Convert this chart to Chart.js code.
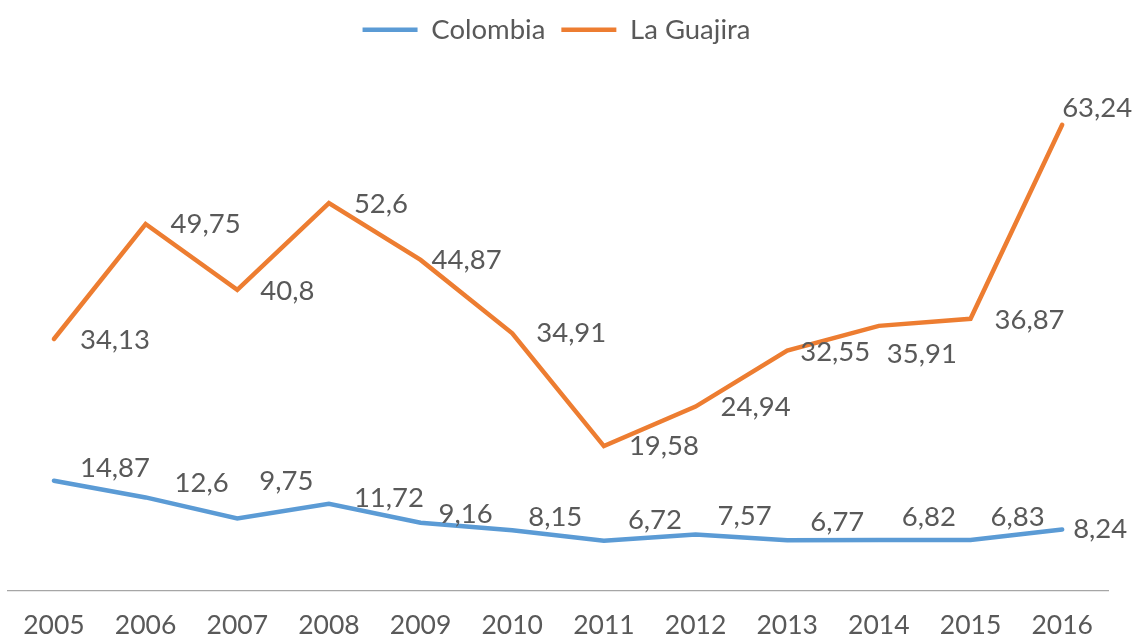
<!DOCTYPE html>
<html>
<head>
<meta charset="utf-8">
<script src="https://cdn.jsdelivr.net/npm/chart.js@4"></script>
<style>
  html, body { margin: 0; padding: 0; background: #fff; }
  #wrap { width: 1133px; height: 637px; }
</style>
</head>
<body>
<div id="wrap"><canvas id="chart"></canvas></div>
<script>
// --- data ---
const years = ['2005', '2006', '2007', '2008', '2009', '2010', '2011', '2012', '2013', '2014', '2015', '2016'];
const colombia = [14.87, 12.6, 9.75, 11.72, 9.16, 8.15, 6.72, 7.57, 6.77, 6.82, 6.83, 8.24];
const guajira = [34.13, 49.75, 40.8, 52.6, 44.87, 34.91, 19.58, 24.94, 32.55, 35.91, 36.87, 63.24];

// label nudges (px from the point: left edge, vertical centre)
const colombiaLabelShift = [[26, -13], [29, -14], [22, -37], [25, -6], [18, -9], [16, -13], [24, -21], [22, -18], [23, -18], [23, -23], [20, -23], [11, 0]];
const guajiraLabelShift = [[26, 1], [25, 0], [23, 1], [25, 1], [11, 0], [24, 0], [25, 0], [25, 1], [13, 2], [8, 28], [24, 1], [0, -17]];

const TEXT = '#595959';
const FONT = 'Lato, "Open Sans", sans-serif';

// draws value labels next to every point, decimal comma like the original
const valueLabels = {
    id: 'valueLabels',
    afterDatasetsDraw(chart) {
        const ctx = chart.ctx;
        ctx.save();
        ctx.font = '27.5px ' + FONT;
        ctx.fillStyle = TEXT;
        ctx.textAlign = 'left';
        ctx.textBaseline = 'middle';
        chart.data.datasets.forEach(function (ds, i) {
            const meta = chart.getDatasetMeta(i);
            const shift = ds.labelShift || [];
            meta.data.forEach(function (pt, j) {
                const s = shift[j] || [20, 0];
                const txt = String(ds.data[j]).replace('.', ',');
                ctx.fillText(txt, pt.x + s[0], pt.y + s[1]);
            });
        });
        ctx.restore();
    }
};

// leave room under the legend like the original
const legendGap = {
    id: 'legendGap',
    beforeInit(chart) {
        const origFit = chart.legend.fit;
        chart.legend.fit = function () {
            origFit.bind(chart.legend)();
            this.height = 75;
        };
    }
};

new Chart(document.getElementById('chart').getContext('2d'), {
    type: 'line',
    data: {
        labels: years,
        datasets: [{
            label: 'Colombia',
            data: colombia,
            labelShift: colombiaLabelShift,
            borderColor: '#5B9BD5',
            backgroundColor: '#5B9BD5',
            borderWidth: 4.5,
            borderCapStyle: 'round',
            pointRadius: 0,
            tension: 0,
            fill: false
        }, {
            label: 'La Guajira',
            data: guajira,
            labelShift: guajiraLabelShift,
            borderColor: '#ED7D31',
            backgroundColor: '#ED7D31',
            borderWidth: 4.5,
            borderCapStyle: 'round',
            pointRadius: 0,
            tension: 0,
            fill: false
        }]
    },
    options: {
        responsive: true,
        maintainAspectRatio: false,
        animation: false,
        layout: { padding: { left: 5, right: 25, top: 0, bottom: -23 } },
        plugins: {
            legend: {
                display: true,
                position: 'top',
                labels: {
                    usePointStyle: true,
                    pointStyle: 'line',
                    pointStyleWidth: 55,
                    padding: 16,
                    color: TEXT,
                    font: { family: FONT, size: 27.5 }
                }
            },
            tooltip: { enabled: false }
        },
        scales: {
            x: {
                offset: true,
                grid: { display: false, drawTicks: false },
                border: { display: true, color: '#A6A6A6', width: 1.3 },
                ticks: {
                    color: TEXT,
                    font: { family: FONT, size: 26.5, lineHeight: 0.9 },
                    padding: 23,
                    autoSkip: false,
                    maxRotation: 0
                }
            },
            y: {
                display: false,
                min: 0,
                max: 70
            }
        }
    },
    plugins: [valueLabels, legendGap]
});
</script>
</body>
</html>
